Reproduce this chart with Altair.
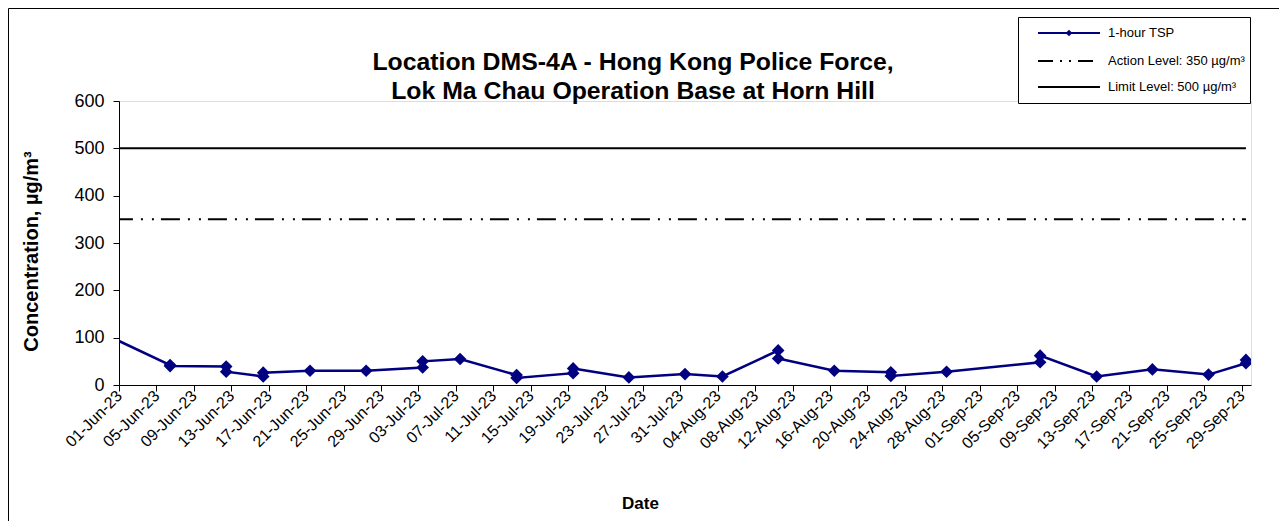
import altair as alt
import pandas as pd

FONT = "Liberation Sans"
NAVY = "#000080"

# ---- data ----
tsp_dates = [
    "2023-05-31T11:00:00Z",
    "2023-06-06T11:00:00Z", "2023-06-06T11:00:00Z",
    "2023-06-12T11:00:00Z", "2023-06-12T11:00:00Z",
    "2023-06-16T10:00:00Z", "2023-06-16T10:00:00Z",
    "2023-06-21T10:00:00Z",
    "2023-06-27T10:00:00Z",
    "2023-07-03T11:00:00Z", "2023-07-03T11:00:00Z",
    "2023-07-07T11:00:00Z",
    "2023-07-13T12:00:00Z", "2023-07-13T12:00:00Z",
    "2023-07-19T13:00:00Z", "2023-07-19T13:00:00Z",
    "2023-07-25T12:00:00Z",
    "2023-07-31T12:00:00Z",
    "2023-08-04T12:00:00Z",
    "2023-08-10T11:00:00Z", "2023-08-10T11:00:00Z",
    "2023-08-16T11:00:00Z",
    "2023-08-22T12:00:00Z", "2023-08-22T12:00:00Z",
    "2023-08-28T11:00:00Z",
    "2023-09-07T11:00:00Z", "2023-09-07T11:00:00Z",
    "2023-09-13T12:00:00Z",
    "2023-09-19T11:00:00Z",
    "2023-09-25T11:00:00Z",
    "2023-09-29T11:00:00Z", "2023-09-29T11:00:00Z",
]
tsp_values = [98, 42, 40, 39, 28, 18, 26, 30, 30, 37, 50, 55, 21, 15, 25, 35,
              16, 23, 18, 73, 56, 30, 27, 19, 28, 48, 62, 18, 33, 22, 46, 53]

action_level = 350
limit_level = 500

tick_dates = pd.date_range("2023-06-01", "2023-09-29", freq="4D")

title_lines = ["Location DMS-4A - Hong Kong Police Force,",
               "Lok Ma Chau Operation Base at Horn Hill"]
legend_labels = ["1-hour TSP", "Action Level: 350 µg/m³", "Limit Level: 500 µg/m³"]
y_title = "Concentration, µg/m³"
x_title = "Date"

# ---- tables ----
tsp = pd.DataFrame({"date": tsp_dates, "value": tsp_values,
                    "idx": list(range(len(tsp_values)))})
level_dates = [tsp_dates[0], tsp_dates[-1]]
action = pd.DataFrame({"date": level_dates, "value": [action_level] * 2})
limit = pd.DataFrame({"date": level_dates, "value": [limit_level] * 2})

W, H = 1132, 284

def dt(ts):
    return alt.DateTime(year=ts.year, month=ts.month, date=ts.day, utc=True)

x_enc = alt.X(
    "date:T",
    scale=alt.Scale(type="utc",
                    domain=[alt.DateTime(year=2023, month=6, date=1, utc=True),
                            alt.DateTime(year=2023, month=9, date=30, utc=True)]),
    axis=alt.Axis(
        values=[dt(t) for t in tick_dates], format="%d-%b-%y",
        labelAngle=315, labelAlign="right", labelBaseline="middle",
        labelFontSize=16, labelFont=FONT, labelColor="black", labelPadding=2,
        labelOverlap=False, labelFlush=False,
        tickSize=6, tickColor="black", domainColor="black", grid=False,
        title=x_title, titleFont=FONT, titleFontSize=17, titleFontWeight="bold",
        titleX=521, titleY=118, titleBaseline="middle", titleAlign="center",
        titleColor="black"),
)
y_enc = alt.Y(
    "value:Q",
    scale=alt.Scale(domain=[0, 600], nice=False),
    axis=alt.Axis(
        values=[0, 100, 200, 300, 400, 500, 600],
        labelFontSize=18, labelFont=FONT, labelColor="black", labelPadding=9,
        tickSize=6, tickColor="black", domainColor="black", grid=False,
        title=y_title, titleFont=FONT, titleFontSize=20, titleFontWeight="bold",
        titleAngle=270, titleX=-88, titleY=150, titleBaseline="middle",
        titleAlign="center", titleColor="black"),
)

limit_line = alt.Chart(limit).mark_line(color="black", strokeWidth=2, clip=True).encode(
    x=x_enc, y=y_enc)
action_line = alt.Chart(action).mark_line(
    color="black", strokeWidth=2, strokeDash=[19, 8, 2, 9, 2, 7], clip=True).encode(
    x=x_enc, y=y_enc)
tsp_line = alt.Chart(tsp).mark_line(color=NAVY, strokeWidth=2.5, clip=True).encode(
    x=x_enc, y=y_enc, order="idx:Q")
tsp_pts = alt.Chart(tsp).mark_point(
    shape="diamond", filled=True, color=NAVY, size=160, opacity=1, clip=True).encode(
    x=x_enc, y=y_enc)

# ---- legend box (top right) ----
one = pd.DataFrame({"k": [0]})
lx0, lx1 = 919, 981
rows = [-68, -40, -14]
leg_box = alt.Chart(one).mark_rect(fill="white", stroke="black", strokeWidth=1).encode(
    x=alt.value(899.5), x2=alt.value(1131.5), y=alt.value(-83.5), y2=alt.value(2.5))
leg_l1 = alt.Chart(one).mark_rule(color=NAVY, strokeWidth=2).encode(
    x=alt.value(lx0), x2=alt.value(lx1), y=alt.value(rows[0]))
leg_p1 = alt.Chart(one).mark_point(shape="diamond", filled=True, color=NAVY,
                                   size=45, opacity=1).encode(
    x=alt.value((lx0 + lx1) / 2), y=alt.value(rows[0]))
leg_l2 = alt.Chart(one).mark_rule(color="black", strokeWidth=2,
                                  strokeDash=[15, 7, 2, 7, 2, 7]).encode(
    x=alt.value(lx0), x2=alt.value(lx1), y=alt.value(rows[1]))
leg_l3 = alt.Chart(one).mark_rule(color="black", strokeWidth=2).encode(
    x=alt.value(lx0), x2=alt.value(lx1), y=alt.value(rows[2]))
leg_texts = [
    alt.Chart(one).mark_text(align="left", baseline="middle", font=FONT,
                             fontSize=13, color="black").encode(
        x=alt.value(989), y=alt.value(r), text=alt.value(lbl))
    for r, lbl in zip(rows, legend_labels)
]

# ---- chart title ----
title_marks = [
    alt.Chart(one).mark_text(align="center", baseline="alphabetic", font=FONT,
                             fontSize=24.8, fontWeight="bold", color="black").encode(
        x=alt.value(514), y=alt.value(yy), text=alt.value(t))
    for yy, t in zip([-31, -2], title_lines)
]

# ---- outer frame ----
frame = alt.Chart(one).mark_rect(fillOpacity=0, stroke="black", strokeWidth=1).encode(
    x=alt.value(-110.5), x2=alt.value(1400), y=alt.value(-92.5), y2=alt.value(600))

chart = alt.layer(
    limit_line, action_line, tsp_line, tsp_pts,
    leg_box, leg_l1, leg_p1, leg_l2, leg_l3, *leg_texts, *title_marks, frame
).properties(
    width=W, height=H,
    autosize=alt.AutoSizeParams(type="none"),
    padding={"left": 111, "top": 93, "right": 28, "bottom": 136},
).configure_view(strokeWidth=0).configure(background="white")

chart.save("out.html", embed_options={"renderer": "svg", "actions": False})
